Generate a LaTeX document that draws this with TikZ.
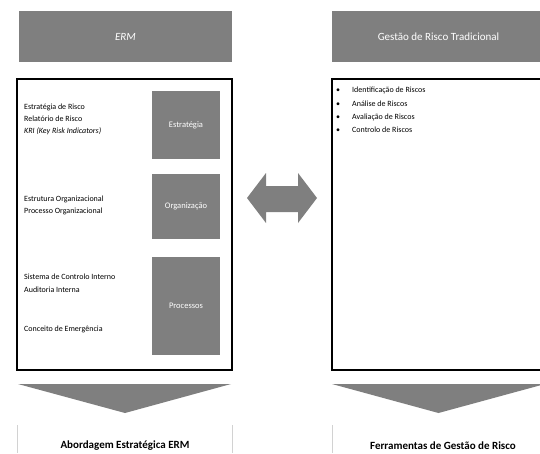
\documentclass[tikz,border=0pt]{standalone}
\usepackage{fontspec}
\setmainfont{Carlito}
\definecolor{boxgray}{HTML}{7F7F7F}
\tikzset{
  headbox/.style={fill=boxgray, text=white, minimum width=213, minimum height=51, inner sep=0, font=\fontsize{11}{13}\selectfont},
  panel/.style={draw=black, line width=1.6, minimum width=215, minimum height=291, inner sep=0},
  tag/.style={fill=boxgray, text=white, minimum width=68, inner sep=0, font=\fontsize{8.5}{10}\selectfont},
  item/.style={anchor=west, align=left, inner sep=0, font=\fontsize{8}{12}\selectfont},
  footer/.style={inner sep=0, font=\bfseries\fontsize{11}{13}\selectfont}
}
\begin{document}
\begin{tikzpicture}[x=1pt, y=-1pt]
  \clip (0,0) rectangle (540,453);

  \node[headbox] (ERM) at (125.5,36.5) {\itshape ERM};
  \node[headbox] (GRT) at (438.5,36.5) {Gestão de Risco Tradicional};

  \node[panel] (lpanel) at (124.5,224.5) {};
  \node[panel] (rpanel) at (439.5,224.5) {};

  \node[tag, minimum height=68] (estr) at (186,125) {Estratégia};
  \node[tag, minimum height=65] (org) at (186,206.5) {Organização};
  \node[tag, minimum height=98] (proc) at (186,306) {Processos};

  \node[item] (estrtxt) at (24,119) {Estratégia de Risco\\Relatório de Risco\\\itshape KRI (Key Risk Indicators)};
  \node[item] (orgtxt) at (24,205) {Estrutura Organizacional\\Processo Organizacional};
  \node[item, font=\fontsize{8}{13}\selectfont] (proctxt) at (24,283.5) {Sistema de Controlo Interno\\Auditoria Interna};
  \node[item] (emerg) at (24,329) {Conceito de Emergência};

  \node[item, font=\fontsize{8}{13.3}\selectfont] (lista) at (336,110) {%
    \makebox[16pt][l]{\textbullet}Identificação de Riscos\\
    \makebox[16pt][l]{\textbullet}Análise de Riscos\\
    \makebox[16pt][l]{\textbullet}Avaliação de Riscos\\
    \makebox[16pt][l]{\textbullet}Controlo de Riscos};

  \fill[boxgray] (247,198) -- (266,173) -- (266,186) -- (298,186) -- (298,173)
    -- (317,198) -- (298,223) -- (298,212) -- (266,212) -- (266,223) -- cycle;

  \fill[boxgray] (18,384) -- (231,384) -- (125,413) -- cycle;
  \fill[boxgray] (332,384) -- (545,384) -- (438.5,413) -- cycle;

  \draw[gray!35, line width=0.8] (17,425) -- (17,453) (232,425) -- (232,453) (332,425) -- (332,453);

  \node[footer] (abord) at (125,446) {Abordagem Estratégica ERM};
  \node[footer] (ferr) at (443,446) {Ferramentas de Gestão de Risco};
\end{tikzpicture}
\end{document}
